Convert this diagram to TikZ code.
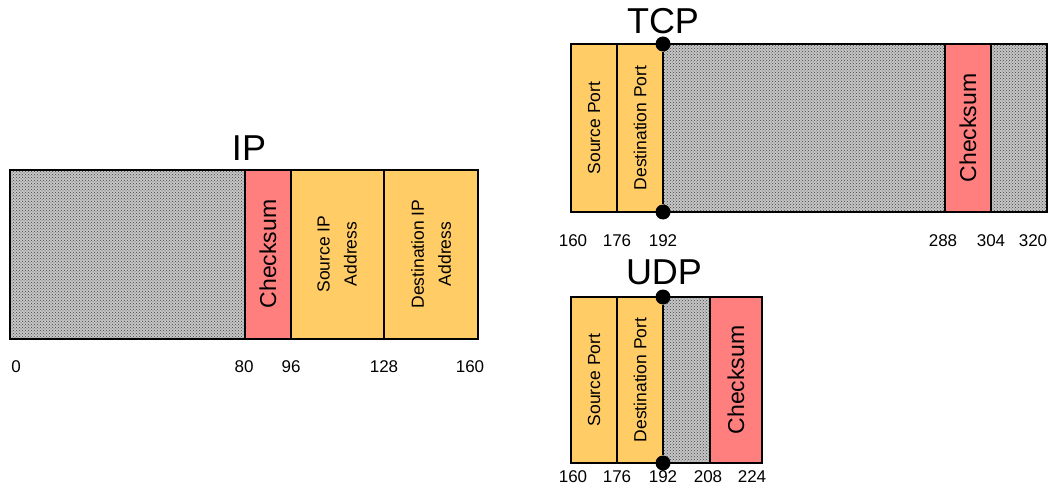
\documentclass[tikz,border=0pt]{standalone}
\usepackage{fontspec}
\setmainfont{Liberation Sans}
\usetikzlibrary{patterns}
\definecolor{portcol}{HTML}{FFCC66}
\definecolor{sumcol}{HTML}{FF7F7F}

\tikzset{
  frame/.style={draw=black, line width=1.6pt},
  port/.style={fill=portcol},
  sum/.style={fill=sumcol},
  hatch/.style={fill=gray!45, postaction={pattern=crosshatch dots, pattern color=gray!50!black}},
  bits/.style={font=\fontsize{17}{17}\selectfont},
  title/.style={font=\fontsize{36}{36}\selectfont},
  vlabel/.style={rotate=90, align=center, font=\fontsize{17.5}{27}\selectfont},
  sumlabel/.style={rotate=90, font=\fontsize{23}{23}\selectfont},
  joint/.style={circle, fill=black, inner sep=0pt, minimum size=15pt}
}

\begin{document}
\begin{tikzpicture}[x=1pt,y=-1pt]
	\useasboundingbox (0,0) rectangle (1057,497);
	
	% IP header
	\node[title] (iptitle) at (249,148) {IP};
	\fill[hatch] (10,170) rectangle (245,339);
	\fill[sum] (245,170) rectangle (291,339);
	\fill[port] (291,170) rectangle (384,339);
	\fill[port] (384,170) rectangle (478,339);
	\draw[frame] (10,170) rectangle (478,339);
	\foreach \x in {245,291,384}
		\draw[frame] (\x,170) -- (\x,339);
	\node[sumlabel] (ipsum) at (268,254) {Checksum};
	\node[vlabel] (ipsrc) at (337,254) {Source IP\\Address};
	\node[vlabel] (ipdst) at (431,254) {Destination IP\\Address};
	\foreach \b/\x in {0/16,80/244,96/291,128/384,160/470}
		\node[bits] (ip\b) at (\x,367) {\b};
	
	% TCP header
	\node[title] (tcptitle) at (663,21) {TCP};
	\fill[port] (571,44) rectangle (617,212);
	\fill[port] (617,44) rectangle (663,212);
	\fill[hatch] (663,44) rectangle (945,212);
	\fill[sum] (945,44) rectangle (991,212);
	\fill[hatch] (991,44) rectangle (1047,212);
	\draw[frame] (571,44) rectangle (1047,212);
	\foreach \x in {617,945,991}
		\draw[frame] (\x,44) -- (\x,212);
	\node[joint] (tcptop) at (663,44) {};
	\node[joint] (tcpbot) at (663,212) {};
	\draw[frame, line width=2.6pt] (tcptop) -- (tcpbot);
	\node[vlabel] (tcpsrc) at (594,128) {Source Port};
	\node[vlabel] (tcpdst) at (640,128) {Destination Port};
	\node[sumlabel] (tcpsum) at (968,128) {Checksum};
	\foreach \b/\x in {160/573,176/617,192/663,288/943,304/991,320/1033}
		\node[bits] (tcp\b) at (\x,241) {\b};
	
	% UDP header
	\node[title] (udptitle) at (664,272) {UDP};
	\fill[port] (571,297) rectangle (617,463);
	\fill[port] (617,297) rectangle (663,463);
	\fill[hatch] (663,297) rectangle (710,463);
	\fill[sum] (710,297) rectangle (762,463);
	\draw[frame, line width=2.6pt] (571,297) rectangle (762,463);
	\foreach \x in {617,710}
		\draw[frame, line width=2.2pt] (\x,297) -- (\x,463);
	\node[joint] (udptop) at (663,297) {};
	\node[joint] (udpbot) at (663,463) {};
	\draw[frame, line width=2.6pt] (udptop) -- (udpbot);
	\node[vlabel] (udpsrc) at (594,380) {Source Port};
	\node[vlabel] (udpdst) at (640,380) {Destination Port};
	\node[sumlabel] (udpsum) at (736,380) {Checksum};
	\foreach \b/\x in {160/573,176/617,192/663,208/708,224/752}
		\node[bits] (udp\b) at (\x,477) {\b};
	
\end{tikzpicture}
\end{document}
